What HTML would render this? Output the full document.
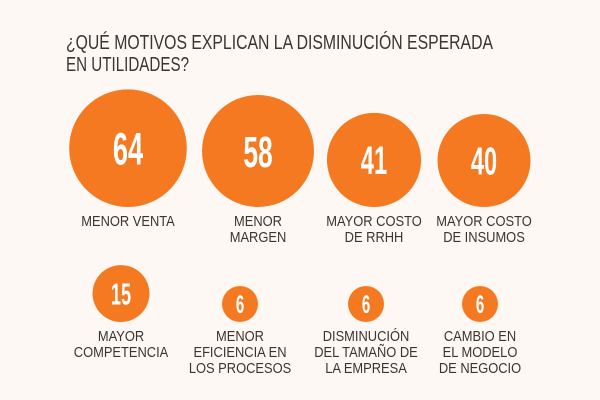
<!DOCTYPE html>
<html><head><meta charset="utf-8"><style>
html,body{margin:0;padding:0;background:#fdf8f3;}
svg{display:block;}
.t{font-family:"Liberation Sans",sans-serif;fill:#3b3430;}
</style></head><body>
<svg width="600" height="400" viewBox="0 0 600 400">
<rect width="600" height="400" fill="#fdf8f3"/>
<text class="t" x="66" y="49" font-size="20" textLength="427" lengthAdjust="spacingAndGlyphs">¿QUÉ MOTIVOS EXPLICAN LA DISMINUCIÓN ESPERADA</text>
<text class="t" x="66" y="71" font-size="20" textLength="123" lengthAdjust="spacingAndGlyphs">EN UTILIDADES?</text>
<g id="bubbles"></g>
</svg>
<script>
const categories = [["MENOR VENTA"],["MENOR","MARGEN"],["MAYOR COSTO","DE RRHH"],["MAYOR COSTO","DE INSUMOS"],["MAYOR","COMPETENCIA"],["MENOR","EFICIENCIA EN","LOS PROCESOS"],["DISMINUCIÓN","DEL TAMAÑO DE","LA EMPRESA"],["CAMBIO EN","EL MODELO","DE NEGOCIO"]];
const values = [64,58,41,40,15,6,6,6];
const NS="http://www.w3.org/2000/svg";
const g=document.getElementById('bubbles');
const cx=[128,258,374,484,121,240,366,480];
function rScale(v){return 7.35*Math.sqrt(v);}
for(let i=0;i<values.length;i++){
  const row=i<4?0:1;
  const r=rScale(values[i]);
  const bottom=row===0?207:322;
  const cy=bottom-r;
  const c=document.createElementNS(NS,'circle');
  
  
  c.setAttribute('cx',cx[i]);c.setAttribute('cy',cy);c.setAttribute('r',r);c.setAttribute('fill','#f47920');
  g.appendChild(c);
  const fs=16+r*0.5;
  const t=document.createElementNS(NS,'text');
  
  
  t.setAttribute('x',0);t.setAttribute('y',0);
  t.setAttribute('transform','translate('+cx[i]+','+(cy+fs*0.36)+') scale(0.6,1)');
  t.setAttribute('text-anchor','middle');t.setAttribute('fill','#fff');
  t.setAttribute('font-family','"Liberation Sans",sans-serif');
  t.setAttribute('font-weight','bold');t.setAttribute('font-size',fs);
  t.textContent=values[i];
  g.appendChild(t);
  const base=row===0?226:341;
  categories[i].forEach((line,k)=>{
    const l=document.createElementNS(NS,'text');
    
    
    l.setAttribute('class','t');
    l.setAttribute('x',0);l.setAttribute('y',0);
    l.setAttribute('transform','translate('+cx[i]+','+(base+k*16)+') scale(0.86,1)');
    l.setAttribute('text-anchor','middle');l.setAttribute('font-size','15');
    l.textContent=line;
    g.appendChild(l);
  });
}
</script>
</body></html>
